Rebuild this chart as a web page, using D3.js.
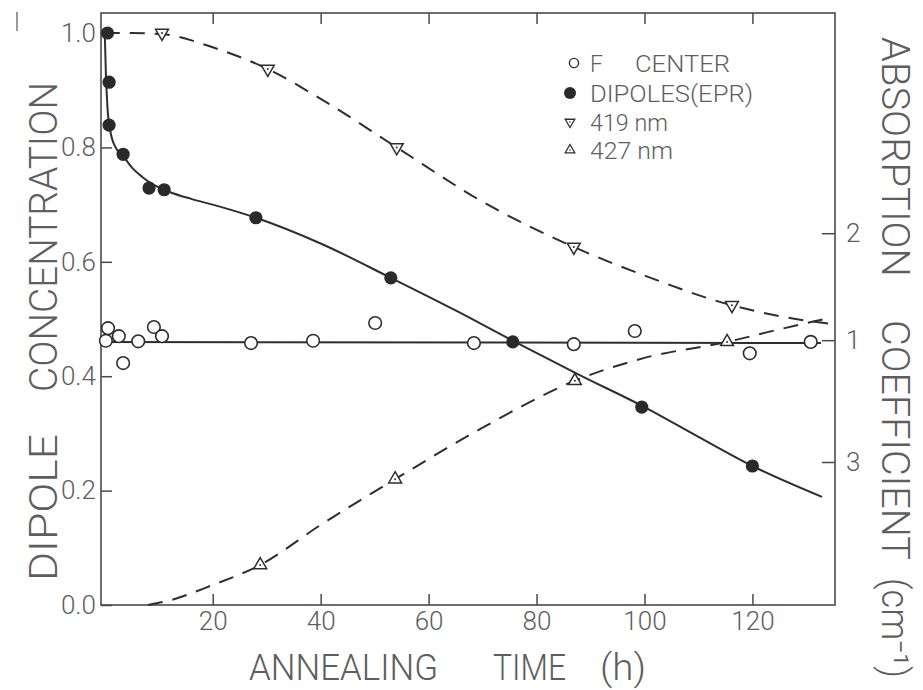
<!DOCTYPE html>
<html>
<head>
<meta charset="utf-8">
<script src="https://cdn.jsdelivr.net/npm/d3@7"></script>
<style>
  html, body { margin: 0; padding: 0; background: #ffffff; }
  svg { display: block; }
  text { font-family: Roboto, "Liberation Sans", "DejaVu Sans", sans-serif; font-weight: 300; fill: #5e5e5e; }
</style>
</head>
<body>
<script>
// Annealing time (h) for each measured series
const fCenterTime = [0.2, 0.6, 2.6, 3.4, 6.2, 9.1, 10.6, 27.1, 38.6, 50.1, 68.4, 86.9, 98.2, 119.5, 130.8];
const fCenterValue = [0.462, 0.484, 0.470, 0.423, 0.461, 0.486, 0.470, 0.458, 0.462, 0.493, 0.458, 0.456, 0.479, 0.440, 0.460];

const dipoleTime = [0.5, 0.8, 0.8, 3.4, 8.2, 11.0, 28.0, 53.0, 75.6, 99.5, 120.0];
const dipoleValue = [1.0, 0.914, 0.839, 0.788, 0.729, 0.726, 0.677, 0.572, 0.460, 0.346, 0.243];

const band419Time = [10.6, 30.2, 54.1, 86.9, 116.2];
const band419Value = [1.0, 0.937, 0.800, 0.626, 0.524];

const band427Time = [28.8, 53.8, 87.1, 115.3];
const band427Value = [0.070, 0.220, 0.392, 0.460];

// Smooth guide curves drawn through the data
const fCenterFitTime = [0, 132.7];
const fCenterFitValue = [0.460, 0.458];

const dipoleFitTime = [0, 0.2, 0.5, 1.0, 2.0, 3.4, 5, 7, 9, 12, 16, 20, 28, 40, 53, 65, 76, 88, 100, 110, 120, 132.9];
const dipoleFitValue = [1.0, 0.93, 0.87, 0.83, 0.80, 0.785, 0.765, 0.748, 0.735, 0.722, 0.710, 0.700, 0.677, 0.632, 0.572, 0.515, 0.460, 0.402, 0.346, 0.294, 0.243, 0.189];

const band419FitTime = [0, 5, 10.6, 20, 30.2, 40, 54.1, 70, 86.9, 100, 116.2, 125, 134.8];
const band419FitValue = [1.0, 1.0, 0.998, 0.975, 0.937, 0.885, 0.800, 0.705, 0.626, 0.576, 0.524, 0.505, 0.491];

const band427FitTime = [8, 12, 20, 28.8, 40, 53.8, 70, 87.1, 100, 115.3, 125, 134.8];
const band427FitValue = [0, 0.008, 0.035, 0.070, 0.140, 0.220, 0.310, 0.392, 0.432, 0.460, 0.482, 0.503];

// Axis ticks
const timeTicks = [20, 40, 60, 80, 100, 120];
const concentrationTicks = [0, 0.2, 0.4, 0.6, 0.8, 1.0];
const absorptionTickLabels = ["2", "1", "3"];
const absorptionTickLevels = [0.650, 0.463, 0.250];

const legendLabels = ["F   CENTER", "DIPOLES(EPR)", "419 nm", "427 nm"];

const W = 923, H = 690;
const svg = d3.select("body").append("svg").attr("width", W).attr("height", H);

const x = d3.scaleLinear().domain([-0.7, 135.3]).range([101, 835]);
const y = d3.scaleLinear().domain([0, 1.035]).range([605, 13]);

const ink = "#2e2e2e";
const frameInk = "#4a4a4a";

// plot frame
svg.append("rect")
  .attr("x", x.range()[0]).attr("y", y.range()[1])
  .attr("width", x.range()[1] - x.range()[0])
  .attr("height", y.range()[0] - y.range()[1])
  .attr("fill", "none").attr("stroke", frameInk).attr("stroke-width", 1.6);

function styleAxis(g) {
  g.select(".domain").remove();
  g.selectAll(".tick line").attr("stroke", frameInk).attr("stroke-width", 1.5);
  g.selectAll(".tick text").attr("fill", "#5e5e5e").style("font-size", "26px")
    .style("font-family", "Roboto, 'Liberation Sans', sans-serif").style("font-weight", 300);
}

svg.append("g").attr("transform", `translate(0,${y.range()[0]})`)
  .call(d3.axisBottom(x).tickValues(timeTicks).tickSizeInner(-11).tickSizeOuter(0).tickPadding(7).tickFormat(d3.format("d")))
  .call(styleAxis);

svg.append("g").attr("transform", `translate(0,${y.range()[1]})`)
  .call(d3.axisTop(x).tickValues(timeTicks).tickSizeInner(-11).tickSizeOuter(0).tickFormat(""))
  .call(styleAxis);

svg.append("g").attr("transform", `translate(${x.range()[0]},0)`)
  .call(d3.axisLeft(y).tickValues(concentrationTicks).tickSizeInner(-11).tickSizeOuter(0).tickPadding(5).tickFormat(d3.format(".1f")))
  .call(styleAxis);

svg.append("g").attr("transform", `translate(${x.range()[1]},0)`)
  .call(d3.axisRight(y).tickValues(absorptionTickLevels).tickSizeInner(-13).tickSizeOuter(0).tickPadding(11)
    .tickFormat((d, i) => absorptionTickLabels[i]))
  .call(styleAxis);

// curves
const line = d3.line().x(d => x(d[0])).y(d => y(d[1]));
const smooth = d3.line().x(d => x(d[0])).y(d => y(d[1])).curve(d3.curveMonotoneX);
const zip = (a, b) => a.map((v, i) => [v, b[i]]);

svg.append("path").datum(zip(fCenterFitTime, fCenterFitValue)).attr("d", line)
  .attr("fill", "none").attr("stroke", ink).attr("stroke-width", 2);
svg.append("path").datum(zip(dipoleFitTime, dipoleFitValue)).attr("d", smooth)
  .attr("fill", "none").attr("stroke", ink).attr("stroke-width", 2);
svg.append("path").datum(zip(band419FitTime, band419FitValue)).attr("d", smooth)
  .attr("fill", "none").attr("stroke", ink).attr("stroke-width", 2).attr("stroke-dasharray", "15 10");
svg.append("path").datum(zip(band427FitTime, band427FitValue)).attr("d", smooth)
  .attr("fill", "none").attr("stroke", ink).attr("stroke-width", 2).attr("stroke-dasharray", "15 10");

// markers
const triUp = d3.symbol().type(d3.symbolTriangle).size(72);

function triangles(times, values, down) {
  const g = svg.append("g");
  const pts = zip(times, values);
  g.selectAll("path").data(pts).join("path")
    .attr("d", triUp())
    .attr("transform", d => `translate(${x(d[0])},${y(d[1])}) rotate(${down ? 180 : 0})`)
    .attr("fill", "#ffffff").attr("stroke", ink).attr("stroke-width", 1.5);
  g.selectAll("circle").data(pts).join("circle")
    .attr("cx", d => x(d[0])).attr("cy", d => y(d[1])).attr("r", 1)
    .attr("fill", ink);
}

svg.append("g").selectAll("circle").data(zip(fCenterTime, fCenterValue)).join("circle")
  .attr("cx", d => x(d[0])).attr("cy", d => y(d[1])).attr("r", 6.3)
  .attr("fill", "#ffffff").attr("stroke", ink).attr("stroke-width", 1.6);

svg.append("g").selectAll("circle").data(zip(dipoleTime, dipoleValue)).join("circle")
  .attr("cx", d => x(d[0])).attr("cy", d => y(d[1])).attr("r", 6.6)
  .attr("fill", "#2a2a2a");

triangles(band419Time, band419Value, true);
triangles(band427Time, band427Value, false);

// legend
const legend = svg.append("g");
const legendX = 571, legendTextX = 590;
const legendRowY = [63, 93, 122, 150];
legend.append("circle").attr("cx", legendX + 3).attr("cy", legendRowY[0]).attr("r", 4.6)
  .attr("fill", "#fff").attr("stroke", ink).attr("stroke-width", 1.4);
legend.append("circle").attr("cx", legendX - 1).attr("cy", legendRowY[1]).attr("r", 6)
  .attr("fill", "#2a2a2a");
const triLegend = d3.symbol().type(d3.symbolTriangle).size(40);
[[2, true], [3, false]].forEach(([row, down]) => {
  legend.append("path").attr("d", triLegend())
    .attr("transform", `translate(${legendX - 1},${legendRowY[row]}) rotate(${down ? 180 : 0})`)
    .attr("fill", "#fff").attr("stroke", ink).attr("stroke-width", 1.3);
  legend.append("circle").attr("cx", legendX - 1).attr("cy", legendRowY[row]).attr("r", 0.8).attr("fill", ink);
});
const legendWidths = [null, 163, 78, 83];
legendLabels.forEach((label, i) => {
  const t = legend.append("text").attr("x", legendTextX).attr("y", legendRowY[i] + 9)
    .style("font-size", "23px").attr("fill", "#555");
  if (i === 0) {
    const [a, b] = label.split(/\s+/);
    t.append("tspan").text(a);
    t.append("tspan").attr("x", 635).attr("textLength", 95).attr("lengthAdjust", "spacingAndGlyphs").text(b);
  } else {
    t.attr("textLength", legendWidths[i]).attr("lengthAdjust", "spacingAndGlyphs").text(label);
  }
});

// axis titles
const titleStyle = (sel, size) => sel.style("font-size", size + "px").attr("fill", "#666").attr("lengthAdjust", "spacingAndGlyphs");

// bottom
[["ANNEALING", 249, 189], ["TIME", 493, 73], ["(h)", 600, 46]].forEach(([s, sx, len]) => {
  svg.append("text").attr("x", sx).attr("y", 680).attr("textLength", len).text(s).call(titleStyle, 36);
});

// left (reads bottom to top)
[["DIPOLE", 581, 147], ["CONCENTRATION", 392, 310]].forEach(([s, sy, len]) => {
  svg.append("text").attr("transform", `translate(57,${sy}) rotate(-90)`)
    .attr("textLength", len).text(s).call(titleStyle, 38);
});

// right (reads top to bottom)
[["ABSORPTION", 37, 240], ["COEFFICIENT", 320, 240], ["(cm\u207B\u00B9)", 578, 100]].forEach(([s, sy, len]) => {
  svg.append("text").attr("transform", `translate(882,${sy}) rotate(90)`)
    .attr("textLength", len).text(s).call(titleStyle, 38);
});

// small mark at the top-left corner
svg.append("line").attr("x1", 17).attr("x2", 17).attr("y1", 12).attr("y2", 31)
  .attr("stroke", "#777").attr("stroke-width", 1.5);
</script>
</body>
</html>
